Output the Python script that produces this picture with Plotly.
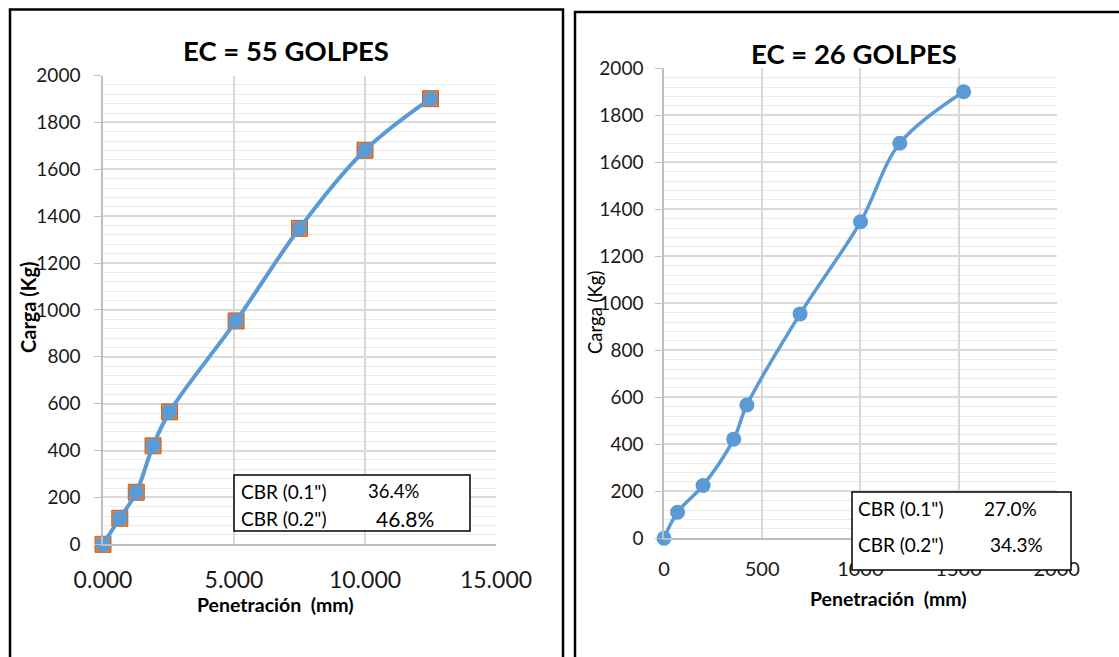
import plotly.graph_objects as go

W, H = 1119, 657

# ---- data ----
pen_55 = [0, 0.64, 1.27, 1.91, 2.54, 5.08, 7.5, 10.0, 12.5]
load_55 = [0, 111, 222, 420, 565, 953, 1348, 1681, 1901]
pen_26 = [0, 69, 199, 355, 422, 693, 1001, 1201, 1526]
load_26 = [0, 111, 225, 422, 567, 955, 1347, 1681, 1900]

title_55 = "EC = 55 GOLPES"
title_26 = "EC = 26 GOLPES"
cbr_55 = [("CBR (0.1\")", "36.4%"), ("CBR (0.2\")", "46.8%")]
cbr_26 = [("CBR (0.1\")", "27.0%"), ("CBR (0.2\")", "34.3%")]

BLUE = "#5B9BD5"
ORANGE = "#ED7D31"
FONT = "Lato"
TXT = "#1a1a1a"


def px(x):
    return x / W


def py(y):
    return 1 - y / H


fig = go.Figure()

# left chart: orange squares below, blue smoothed line with circles on top
fig.add_trace(go.Scatter(x=pen_55, y=load_55, mode="markers", cliponaxis=False,
                         marker=dict(symbol="square", size=16, color=ORANGE,
                                     line=dict(color="#b0673a", width=1)),
                         xaxis="x", yaxis="y", showlegend=False))
fig.add_trace(go.Scatter(x=pen_55, y=load_55, mode="lines+markers", cliponaxis=False,
                         line=dict(color=BLUE, width=4, shape="spline", smoothing=1),
                         marker=dict(symbol="circle", size=15, color=BLUE),
                         xaxis="x", yaxis="y", showlegend=False))
# right chart
fig.add_trace(go.Scatter(x=pen_26, y=load_26, mode="lines+markers", cliponaxis=False,
                         line=dict(color=BLUE, width=3.5, shape="spline", smoothing=1),
                         marker=dict(symbol="circle", size=15, color=BLUE),
                         xaxis="x2", yaxis="y2", showlegend=False))

grid_major = "#d9d9d9"
grid_minor = "#ebebeb"
axis_line = "#bfbfbf"

common_y = dict(range=[0, 2000], dtick=200, showgrid=True, gridcolor=grid_major,
                gridwidth=1.5, zeroline=False, showline=True, linecolor=axis_line,
                linewidth=1.5, ticks="outside", ticklen=7, tickcolor=axis_line,
                minor=dict(dtick=40, showgrid=True, gridcolor=grid_minor, gridwidth=1),
                tickfont=dict(family=FONT, size=19, color=TXT), fixedrange=True,
                automargin=False)
common_x = dict(showgrid=True, gridcolor=grid_major, gridwidth=1.5, zeroline=False,
                showline=True, linecolor=axis_line, linewidth=1.5, ticks="",
                fixedrange=True, automargin=False)

fig.update_layout(
    width=W, height=H,
    margin=dict(l=0, r=0, t=0, b=0, autoexpand=False),
    paper_bgcolor="white", plot_bgcolor="white",
    xaxis=dict(common_x, domain=[px(103), px(496)], range=[0, 15], dtick=5,
               tickformat=".3f", anchor="y", ticklabelstandoff=14,
               tickfont=dict(family=FONT, size=23, color=TXT)),
    yaxis=dict(common_y, domain=[py(544.3), py(75.5)], anchor="x",
               ticklabelstandoff=10),
    xaxis2=dict(common_x, domain=[px(664), px(1056.7)], range=[0, 2000], dtick=500,
                anchor="y2", ticklabelstandoff=12,
                tickfont=dict(family=FONT, size=20, color=TXT)),
    yaxis2=dict(common_y, domain=[py(538.3), py(68.3)], anchor="x2",
                ticklabelstandoff=8),
)

shapes = []
# panel borders
shapes.append(dict(type="rect", xref="paper", yref="paper",
                   x0=px(10), x1=px(563), y0=-0.1, y1=py(9.5),
                   line=dict(color="black", width=2.5), fillcolor="rgba(0,0,0,0)",
                   layer="above"))
shapes.append(dict(type="rect", xref="paper", yref="paper",
                   x0=px(575), x1=1.05, y0=-0.1, y1=py(12),
                   line=dict(color="black", width=2.5), fillcolor="rgba(0,0,0,0)",
                   layer="above"))
# CBR boxes
shapes.append(dict(type="rect", xref="paper", yref="paper",
                   x0=px(234), x1=px(470), y0=py(531), y1=py(475),
                   line=dict(color="black", width=1.5), fillcolor="white",
                   layer="above"))
shapes.append(dict(type="rect", xref="paper", yref="paper",
                   x0=px(852), x1=px(1071), y0=py(570), y1=py(492),
                   line=dict(color="black", width=1.5), fillcolor="white",
                   layer="above"))

ann = []


def text(s, x, y, size, bold=False, xanchor="center", angle=0):
    ann.append(dict(text=f"<b>{s}</b>" if bold else s, x=px(x), y=py(y),
                    xref="paper", yref="paper", showarrow=False,
                    xanchor=xanchor, yanchor="middle", textangle=angle,
                    font=dict(family=FONT, size=size, color="black")))


text(title_55, 286, 51, 27.5, bold=True)
text(title_26, 854, 53, 27.5, bold=True)
text("Penetración  (mm)", 275, 604, 19.5, bold=True)
text("Penetración  (mm)", 888, 598, 19.5, bold=True)
text("Carga (Kg)", 28, 307, 20, bold=True, angle=-90)
text("Carga (Kg)", 595, 312, 18.5, angle=-90)

# CBR box texts
text(cbr_55[0][0], 239, 491, 19, xanchor="left")
text(cbr_55[0][1], 366, 491, 18.5, xanchor="left")
text(cbr_55[1][0], 239, 518, 19, xanchor="left")
text(cbr_55[1][1], 374, 518, 21, xanchor="left")
text(cbr_26[0][0], 856, 508, 19, xanchor="left")
text(cbr_26[0][1], 982, 508, 19, xanchor="left")
text(cbr_26[1][0], 856, 544, 19, xanchor="left")
text(cbr_26[1][1], 988, 544, 19, xanchor="left")

fig.update_layout(shapes=shapes, annotations=ann)

fig.write_html("out.html", config={"displayModeBar": False})
